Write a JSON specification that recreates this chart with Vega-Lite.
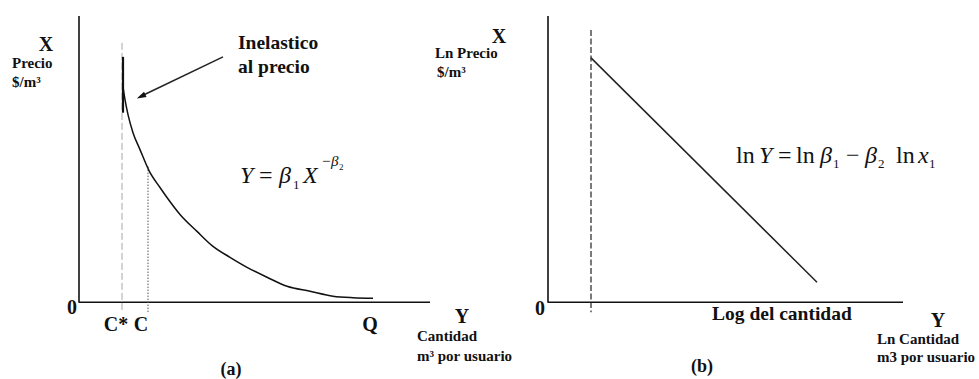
{
  "$schema": "https://vega.github.io/schema/vega-lite/v6.json",
  "width": 979,
  "height": 379,
  "autosize": {"type": "fit", "contains": "padding"},
  "padding": 0,
  "background": "white",
  "config": {"view": {"stroke": null}},
  "datasets": {
    "axes": [
      {"panel": "a", "x": 79, "y": 363, "x2": 79, "y2": 75.5},
      {"panel": "a", "x": 79, "y": 76, "x2": 430, "y2": 76},
      {"panel": "b", "x": 548, "y": 363, "x2": 548, "y2": 75.5},
      {"panel": "b", "x": 548, "y": 76, "x2": 903, "y2": 76}
    ],
    "cstar": [{"x": 122, "y": 336, "x2": 122, "y2": 66}],
    "cline": [{"x": 148, "y": 212, "x2": 148, "y2": 66}],
    "bdash": [{"x": 591, "y": 349, "x2": 591, "y2": 66}],
    "inelastic": [{"x": 123, "y": 322, "x2": 123, "y2": 266}],
    "arrow": [{"x": 223, "y": 322, "x2": 142, "y2": 283}],
    "arrowhead": [{"x": 141.5, "y": 282.5}],
    "curve": [
      {"q": 123, "p": 292},
      {"q": 125, "p": 279},
      {"q": 128, "p": 264},
      {"q": 133, "p": 246},
      {"q": 140, "p": 229},
      {"q": 149, "p": 208},
      {"q": 160, "p": 191},
      {"q": 167, "p": 181},
      {"q": 180, "p": 164},
      {"q": 197, "p": 147},
      {"q": 213, "p": 132},
      {"q": 230, "p": 121},
      {"q": 247, "p": 111},
      {"q": 267, "p": 101},
      {"q": 287, "p": 92},
      {"q": 310, "p": 87},
      {"q": 333, "p": 82},
      {"q": 353, "p": 80.5},
      {"q": 373, "p": 80}
    ],
    "logline": [
      {"q": 591, "p": 321},
      {"q": 817, "p": 96}
    ],
    "bigLabels": [
      {"t": "X", "x": 46, "y": 334},
      {"t": "0", "x": 72, "y": 70},
      {"t": "C*", "x": 116, "y": 53},
      {"t": "C", "x": 141, "y": 53},
      {"t": "Q", "x": 370, "y": 53},
      {"t": "Y", "x": 462, "y": 61},
      {"t": "X", "x": 499, "y": 342},
      {"t": "0", "x": 540, "y": 69},
      {"t": "Y", "x": 938, "y": 57}
    ],
    "smallLabels": [
      {"t": "Precio", "x": 12, "y": 316},
      {"t": "$/m³", "x": 12, "y": 297},
      {"t": "Cantidad", "x": 417, "y": 42},
      {"t": "m³ por  usuario", "x": 417, "y": 22},
      {"t": "Ln Precio", "x": 435, "y": 326},
      {"t": "$/m³", "x": 437, "y": 307},
      {"t": "Ln Cantidad", "x": 877, "y": 39},
      {"t": "m3 por usuario", "x": 877, "y": 21}
    ],
    "callouts": [
      {"t": "Inelastico", "x": 238, "y": 336},
      {"t": "al precio", "x": 238, "y": 312},
      {"t": "Log del cantidad", "x": 712, "y": 64}
    ],
    "tags": [
      {"t": "(a)", "x": 231, "y": 8},
      {"t": "(b)", "x": 702, "y": 11}
    ],
    "mathItalic": [
      {"t": "Y", "x": 240, "y": 196},
      {"t": "β", "x": 279, "y": 196},
      {"t": "X", "x": 303, "y": 196},
      {"t": "Y", "x": 759, "y": 216},
      {"t": "β", "x": 820, "y": 216},
      {"t": "β", "x": 865, "y": 216},
      {"t": "x", "x": 918, "y": 216}
    ],
    "mathUpright": [
      {"t": "=", "x": 778, "y": 216},
      {"t": "ln", "x": 736, "y": 216},
      {"t": "ln", "x": 796, "y": 216},
      {"t": "−", "x": 846, "y": 216},
      {"t": "ln", "x": 896, "y": 216},
      {"t": "=", "x": 259, "y": 196}
    ],
    "mathSub": [
      {"t": "1", "x": 293, "y": 190},
      {"t": "1", "x": 833, "y": 211},
      {"t": "2", "x": 878, "y": 211},
      {"t": "1", "x": 929, "y": 211}
    ],
    "mathSup": [
      {"t": "−β", "x": 321, "y": 213}
    ],
    "mathSupSub": [
      {"t": "2", "x": 339, "y": 209}
    ]
  },
  "layer": [
    {
      "data": {"name": "axes"},
      "mark": {"type": "rule", "color": "#111", "strokeWidth": 1.6},
      "encoding": {
        "x": {"field": "x", "type": "quantitative", "scale": {"domain": [0, 979], "nice": false, "zero": false}, "axis": null},
        "y": {"field": "y", "type": "quantitative", "scale": {"domain": [0, 379], "nice": false, "zero": false}, "axis": null},
        "x2": {"field": "x2"},
        "y2": {"field": "y2"}
      }
    },
    {
      "data": {"name": "cstar"},
      "mark": {"type": "rule", "color": "#a8a8a8", "strokeWidth": 1, "strokeDash": [7, 3]},
      "encoding": {
        "x": {"field": "x", "type": "quantitative"},
        "y": {"field": "y", "type": "quantitative"},
        "x2": {"field": "x2"},
        "y2": {"field": "y2"}
      }
    },
    {
      "data": {"name": "cline"},
      "mark": {"type": "rule", "color": "#555", "strokeWidth": 1, "strokeDash": [1.5, 1.5]},
      "encoding": {
        "x": {"field": "x", "type": "quantitative"},
        "y": {"field": "y", "type": "quantitative"},
        "x2": {"field": "x2"},
        "y2": {"field": "y2"}
      }
    },
    {
      "data": {"name": "bdash"},
      "mark": {"type": "rule", "color": "#222", "strokeWidth": 1.2, "strokeDash": [6, 2.5]},
      "encoding": {
        "x": {"field": "x", "type": "quantitative"},
        "y": {"field": "y", "type": "quantitative"},
        "x2": {"field": "x2"},
        "y2": {"field": "y2"}
      }
    },
    {
      "data": {"name": "inelastic"},
      "mark": {"type": "rule", "color": "#111", "strokeWidth": 2.2},
      "encoding": {
        "x": {"field": "x", "type": "quantitative"},
        "y": {"field": "y", "type": "quantitative"},
        "x2": {"field": "x2"},
        "y2": {"field": "y2"}
      }
    },
    {
      "data": {"name": "arrow"},
      "mark": {"type": "rule", "color": "#222", "strokeWidth": 1.5},
      "encoding": {
        "x": {"field": "x", "type": "quantitative"},
        "y": {"field": "y", "type": "quantitative"},
        "x2": {"field": "x2"},
        "y2": {"field": "y2"}
      }
    },
    {
      "data": {"name": "arrowhead"},
      "mark": {"type": "point", "shape": "M0,-1L0.55,0.8L-0.55,0.8Z", "filled": true, "color": "#111", "opacity": 1, "size": 110, "angle": 244},
      "encoding": {
        "x": {"field": "x", "type": "quantitative"},
        "y": {"field": "y", "type": "quantitative"}
      }
    },
    {
      "data": {"name": "curve"},
      "mark": {"type": "line", "color": "#111", "strokeWidth": 1.5, "interpolate": "monotone"},
      "encoding": {
        "x": {"field": "q", "type": "quantitative"},
        "y": {"field": "p", "type": "quantitative"}
      }
    },
    {
      "data": {"name": "logline"},
      "mark": {"type": "line", "color": "#222", "strokeWidth": 1.5},
      "encoding": {
        "x": {"field": "q", "type": "quantitative"},
        "y": {"field": "p", "type": "quantitative"}
      }
    },
    {
      "data": {"name": "bigLabels"},
      "mark": {"type": "text", "font": "Liberation Serif, Times New Roman, serif", "fontWeight": "bold", "fontSize": 20, "align": "center", "baseline": "middle", "color": "#111"},
      "encoding": {
        "x": {"field": "x", "type": "quantitative"},
        "y": {"field": "y", "type": "quantitative"},
        "text": {"field": "t"}
      }
    },
    {
      "data": {"name": "smallLabels"},
      "mark": {"type": "text", "font": "Liberation Serif, Times New Roman, serif", "fontWeight": "bold", "fontSize": 15, "align": "left", "baseline": "middle", "color": "#111"},
      "encoding": {
        "x": {"field": "x", "type": "quantitative"},
        "y": {"field": "y", "type": "quantitative"},
        "text": {"field": "t"}
      }
    },
    {
      "data": {"name": "callouts"},
      "mark": {"type": "text", "font": "Liberation Serif, Times New Roman, serif", "fontWeight": "bold", "fontSize": 19.5, "align": "left", "baseline": "middle", "color": "#111"},
      "encoding": {
        "x": {"field": "x", "type": "quantitative"},
        "y": {"field": "y", "type": "quantitative"},
        "text": {"field": "t"}
      }
    },
    {
      "data": {"name": "tags"},
      "mark": {"type": "text", "font": "Liberation Serif, Times New Roman, serif", "fontWeight": "bold", "fontSize": 18, "align": "center", "baseline": "middle", "color": "#111"},
      "encoding": {
        "x": {"field": "x", "type": "quantitative"},
        "y": {"field": "y", "type": "quantitative"},
        "text": {"field": "t"}
      }
    },
    {
      "data": {"name": "mathItalic"},
      "mark": {"type": "text", "font": "Liberation Serif, Times New Roman, serif", "fontStyle": "italic", "fontSize": 24, "align": "left", "baseline": "alphabetic", "color": "#111"},
      "encoding": {
        "x": {"field": "x", "type": "quantitative"},
        "y": {"field": "y", "type": "quantitative"},
        "text": {"field": "t"}
      }
    },
    {
      "data": {"name": "mathUpright"},
      "mark": {"type": "text", "font": "Liberation Serif, Times New Roman, serif", "fontSize": 24, "align": "left", "baseline": "alphabetic", "color": "#111"},
      "encoding": {
        "x": {"field": "x", "type": "quantitative"},
        "y": {"field": "y", "type": "quantitative"},
        "text": {"field": "t"}
      }
    },
    {
      "data": {"name": "mathSub"},
      "mark": {"type": "text", "font": "Liberation Serif, Times New Roman, serif", "fontSize": 13, "align": "left", "baseline": "alphabetic", "color": "#111"},
      "encoding": {
        "x": {"field": "x", "type": "quantitative"},
        "y": {"field": "y", "type": "quantitative"},
        "text": {"field": "t"}
      }
    },
    {
      "data": {"name": "mathSup"},
      "mark": {"type": "text", "font": "Liberation Serif, Times New Roman, serif", "fontStyle": "italic", "fontSize": 15, "align": "left", "baseline": "alphabetic", "color": "#111"},
      "encoding": {
        "x": {"field": "x", "type": "quantitative"},
        "y": {"field": "y", "type": "quantitative"},
        "text": {"field": "t"}
      }
    },
    {
      "data": {"name": "mathSupSub"},
      "mark": {"type": "text", "font": "Liberation Serif, Times New Roman, serif", "fontSize": 9, "align": "left", "baseline": "alphabetic", "color": "#111"},
      "encoding": {
        "x": {"field": "x", "type": "quantitative"},
        "y": {"field": "y", "type": "quantitative"},
        "text": {"field": "t"}
      }
    }
  ]
}
